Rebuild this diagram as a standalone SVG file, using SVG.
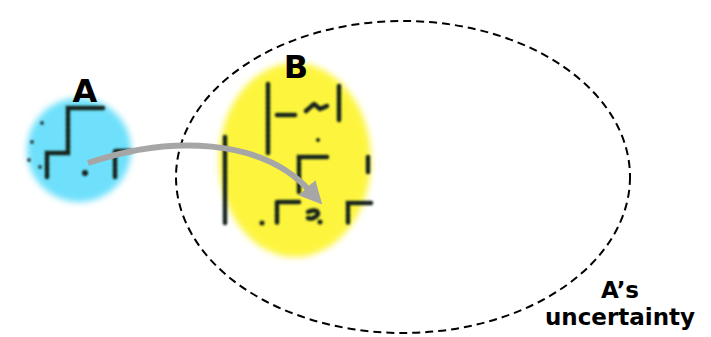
<svg xmlns="http://www.w3.org/2000/svg" width="711" height="337" viewBox="0 0 711 337">
<defs>
<filter id="soft" x="-20%" y="-20%" width="140%" height="140%"><feGaussianBlur stdDeviation="3"/></filter>
<filter id="ink" x="-20%" y="-20%" width="140%" height="140%"><feGaussianBlur stdDeviation="0.9"/></filter>
<marker id="ah" viewBox="0 0 10 10" refX="2" refY="5" markerWidth="3.8" markerHeight="3.8" orient="auto" markerUnits="strokeWidth">
<path d="M0,0 L10,5 L0,10 Z" fill="#a6a6a6"/>
</marker>
<style>
.lbl{font-family:"DejaVu Sans",Verdana,sans-serif;font-weight:bold;fill:#000;text-anchor:middle}
.mk{fill:none;stroke:#14241a;stroke-width:4.5;stroke-dasharray:4 1.5;stroke-linecap:round}
.dot{fill:#14241a}
</style>
</defs>
<rect width="711" height="337" fill="#fff"/>
<g id="uncertainty">
<ellipse cx="403" cy="177" rx="227" ry="156" fill="none" stroke="#000" stroke-width="2" stroke-dasharray="8 5"/>
<text class="lbl" x="620" y="298" font-size="23">A’s</text>
<text class="lbl" x="620" y="325" font-size="23">uncertainty</text>
</g>
<g id="A">
<circle cx="79" cy="150" r="52" fill="#6ee0fb" filter="url(#soft)"/>
<g filter="url(#ink)">
<path class="mk" d="M103,108 L68,108 L68,153 L47,153 L47,178"/>
<path class="mk" d="M131,151 L115,151 L115,177"/>
<circle class="dot" cx="85" cy="173" r="3"/>
<circle class="dot" cx="42" cy="123" r="1.8"/>
<circle class="dot" cx="32" cy="142" r="1.8"/>
<circle class="dot" cx="29" cy="160" r="1.8"/>
<circle class="dot" cx="40" cy="167" r="1.8"/>
</g>
<text class="lbl" x="85" y="102" font-size="32">A</text>
</g>
<g id="B">
<ellipse cx="295" cy="160" rx="76" ry="97" fill="#fdf53c" filter="url(#soft)"/>
<g filter="url(#ink)">
<path class="mk" d="M268,84 L268,153"/>
<path class="mk" d="M277,115 L295,115"/>
<path class="mk" d="M306,111 L314,104 L320,109 L327,106"/>
<path class="mk" d="M339,86 L339,120"/>
<circle class="dot" cx="318" cy="140" r="2"/>
<path class="mk" d="M327,157 L299,157 L299,192"/>
<path class="mk" d="M299,202 L277,202 L277,223"/>
<path class="mk" d="M371,203 L348,203 L348,223"/>
<path class="mk" d="M308,212 Q318,208 318,214 Q314,220 308,218"/>
<circle class="dot" cx="262" cy="223" r="2.5"/>
<circle class="dot" cx="320" cy="222" r="2.5"/>
<path class="mk" d="M225,137 L225,223" stroke-dasharray="2 3"/>
<path class="mk" d="M368,157 L368,173" stroke-dasharray="2 3"/>
</g>
<text class="lbl" x="296" y="78" font-size="32">B</text>
</g>
<g id="connectors">
<path d="M88,163 C170,135 262,138 310,191" fill="none" stroke="#a6a6a6" stroke-width="6" marker-end="url(#ah)"/>
</g>
</svg>
